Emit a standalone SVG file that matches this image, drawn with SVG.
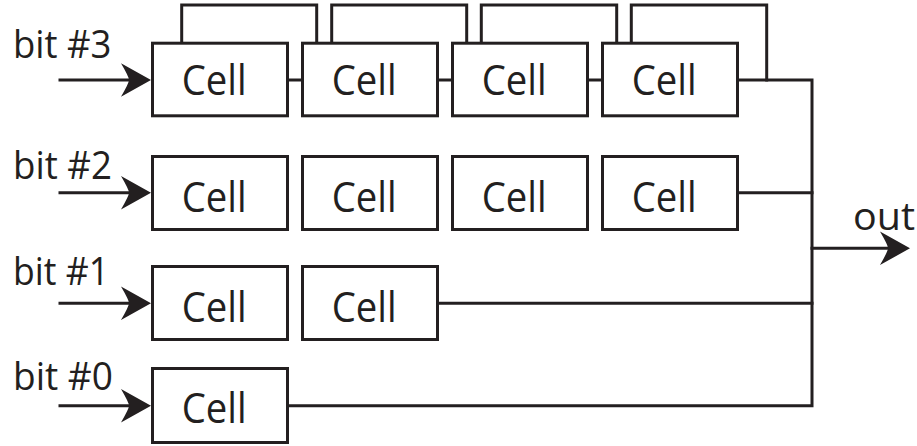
<svg xmlns="http://www.w3.org/2000/svg" width="917" height="446" viewBox="0 0 917 446">
  <defs>
    <style>
      .cell rect { fill: #ffffff; stroke: #231f20; stroke-width: 3; }
      .cell text { font-family: "Open Sans", "Liberation Sans", sans-serif; font-size: 42px; fill: #231f20; }
      .lbl { font-family: "Open Sans", "Liberation Sans", sans-serif; font-size: 39px; fill: #231f20; }
      .wire { fill: none; stroke: #231f20; stroke-width: 3; stroke-linejoin: miter; stroke-linecap: square; }
      .head { fill: #231f20; stroke: none; }
    </style>
    <!-- barbed arrowhead, tip at origin pointing right -->
    <path id="arrowhead" d="M0,0 L-30,-16.7 Q-22,-3 -22,0 Q-22,3 -30,16.7 Z"/>
  </defs>

  <!-- connectors -->
  <g id="connectors">
    <!-- input arrows -->
    <path class="wire" d="M60,80 H132"/>
    <use href="#arrowhead" class="head" x="151" y="80"/>
    <path class="wire" d="M60,192.7 H132"/>
    <use href="#arrowhead" class="head" x="151" y="192.7"/>
    <path class="wire" d="M60,303.3 H132"/>
    <use href="#arrowhead" class="head" x="151" y="303.3"/>
    <path class="wire" d="M60,405.7 H132"/>
    <use href="#arrowhead" class="head" x="151" y="405.7"/>

    <!-- bit #3 chain links -->
    <path class="wire" d="M289,80 H301"/>
    <path class="wire" d="M439,80 H451"/>
    <path class="wire" d="M589,80 H601"/>

    <!-- bit #3 feedback loops over the cells -->
    <path class="wire" d="M181.7,42 V5 H316.7 V42"/>
    <path class="wire" d="M331.7,42 V5 H466.7 V42"/>
    <path class="wire" d="M481.3,42 V5 H616.7 V42"/>
    <path class="wire" d="M631.3,42 V5 H766.7 V80"/>

    <!-- outputs into the bus -->
    <path class="wire" d="M739,80 H812 V405.7 H289"/>
    <path class="wire" d="M739,192.7 H812"/>
    <path class="wire" d="M439,303.3 H812"/>

    <!-- out arrow -->
    <path class="wire" d="M812,248.3 H890"/>
    <use href="#arrowhead" class="head" x="910" y="248.3"/>
  </g>

  <!-- labels -->
  <g id="labels">
    <text class="lbl" x="13" y="58.3" textLength="98.5" lengthAdjust="spacingAndGlyphs">bit #3</text>
    <text class="lbl" x="13" y="179.3" textLength="99" lengthAdjust="spacingAndGlyphs">bit #2</text>
    <text class="lbl" x="13" y="285" textLength="96" lengthAdjust="spacingAndGlyphs">bit #1</text>
    <text class="lbl" x="13" y="390" textLength="100" lengthAdjust="spacingAndGlyphs">bit #0</text>
    <text class="lbl" x="853" y="230" textLength="62" lengthAdjust="spacingAndGlyphs">out</text>
  </g>

  <!-- bit #3 row -->
  <g id="cell-3-0" class="cell"><rect x="152.5" y="43.2" width="135" height="72.6"/><text x="181.7" y="95" textLength="65" lengthAdjust="spacingAndGlyphs">Cell</text></g>
  <g id="cell-3-1" class="cell"><rect x="302.5" y="43.2" width="135" height="72.6"/><text x="331.7" y="95" textLength="65" lengthAdjust="spacingAndGlyphs">Cell</text></g>
  <g id="cell-3-2" class="cell"><rect x="452.5" y="43.2" width="135" height="72.6"/><text x="481.7" y="95" textLength="65" lengthAdjust="spacingAndGlyphs">Cell</text></g>
  <g id="cell-3-3" class="cell"><rect x="602.5" y="43.2" width="135" height="72.6"/><text x="631.7" y="95" textLength="65" lengthAdjust="spacingAndGlyphs">Cell</text></g>

  <!-- bit #2 row -->
  <g id="cell-2-0" class="cell"><rect x="152.5" y="156.5" width="135" height="73"/><text x="181.7" y="211.7" textLength="65" lengthAdjust="spacingAndGlyphs">Cell</text></g>
  <g id="cell-2-1" class="cell"><rect x="302.5" y="156.5" width="135" height="73"/><text x="331.7" y="211.7" textLength="65" lengthAdjust="spacingAndGlyphs">Cell</text></g>
  <g id="cell-2-2" class="cell"><rect x="452.5" y="156.5" width="135" height="73"/><text x="481.7" y="211.7" textLength="65" lengthAdjust="spacingAndGlyphs">Cell</text></g>
  <g id="cell-2-3" class="cell"><rect x="602.5" y="156.5" width="135" height="73"/><text x="631.7" y="211.7" textLength="65" lengthAdjust="spacingAndGlyphs">Cell</text></g>

  <!-- bit #1 row -->
  <g id="cell-1-0" class="cell"><rect x="152.5" y="266.5" width="135" height="73"/><text x="181.7" y="322.3" textLength="65" lengthAdjust="spacingAndGlyphs">Cell</text></g>
  <g id="cell-1-1" class="cell"><rect x="302.5" y="266.5" width="135" height="73"/><text x="331.7" y="322.3" textLength="65" lengthAdjust="spacingAndGlyphs">Cell</text></g>

  <!-- bit #0 row -->
  <g id="cell-0-0" class="cell"><rect x="152.5" y="368.5" width="135" height="74"/><text x="181.7" y="423.3" textLength="65" lengthAdjust="spacingAndGlyphs">Cell</text></g>
</svg>
